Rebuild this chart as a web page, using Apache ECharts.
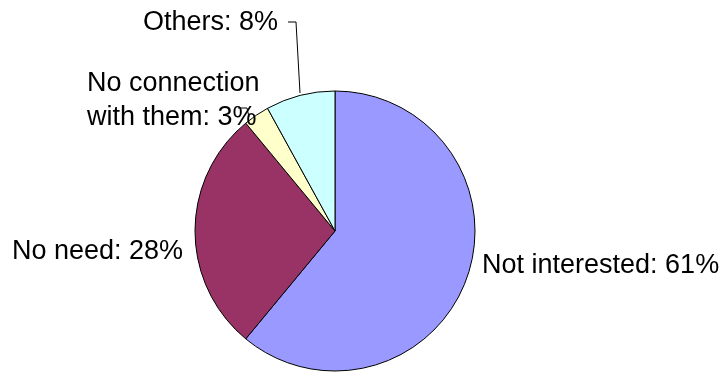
<!DOCTYPE html>
<html>
<head>
<meta charset="utf-8">
<script src="https://cdn.jsdelivr.net/npm/echarts@6/dist/echarts.min.js"></script>
<style>
html, body { margin: 0; padding: 0; background: #fff; }
#chart { width: 726px; height: 373px; }
</style>
</head>
<body>
<div id="chart"></div>
<script>
// Reasons given, share in percent
const categories = ['Not interested', 'No need', 'No connection\nwith them', 'Others'];
const shares = [61, 28, 3, 8];
const sliceColors = ['#9999FF', '#993366', '#FFFFCC', '#CCFFFF'];

// Label anchor (left edge, vertical middle) and leader line for each slice
const labelSpots = [
  { x: 482, y: 266, line: null },
  { x: 12, y: 252, line: null },
  { x: 87, y: 101, line: [[249, 117], [247, 108], [238, 108]] },
  { x: 143, y: 23, line: [[300, 93], [296, 22], [288, 22]] }
];

const chart = echarts.init(document.getElementById('chart'), null, { renderer: 'canvas' });

chart.setOption({
  animation: false,
  backgroundColor: '#ffffff',
  series: [{
    type: 'pie',
    center: [335, 231],
    radius: 140,
    startAngle: 90,
    clockwise: true,
    avoidLabelOverlap: false,
    data: categories.map((name, i) => ({
      name: name,
      value: shares[i],
      itemStyle: { color: sliceColors[i] }
    })),
    itemStyle: { borderColor: '#000000', borderWidth: 1 },
    label: {
      show: true,
      position: 'outside',
      formatter: p => p.name + ': ' + p.value + '%',
      fontFamily: 'Liberation Sans, Arial, sans-serif',
      fontSize: 27,
      lineHeight: 34,
      color: '#000000',
      align: 'left'
    },
    labelLine: {
      show: true,
      length: 10,
      length2: 10,
      lineStyle: { color: '#000000', width: 1 }
    },
    labelLayout: function (params) {
      const s = labelSpots[params.dataIndex];
      const out = { x: s.x, y: s.y, align: 'left', verticalAlign: 'middle' };
      out.labelLinePoints = s.line ? s.line : [[0, 0], [0, 0], [0, 0]];
      return out;
    },
    emphasis: { disabled: true }
  }]
});
</script>
</body>
</html>
